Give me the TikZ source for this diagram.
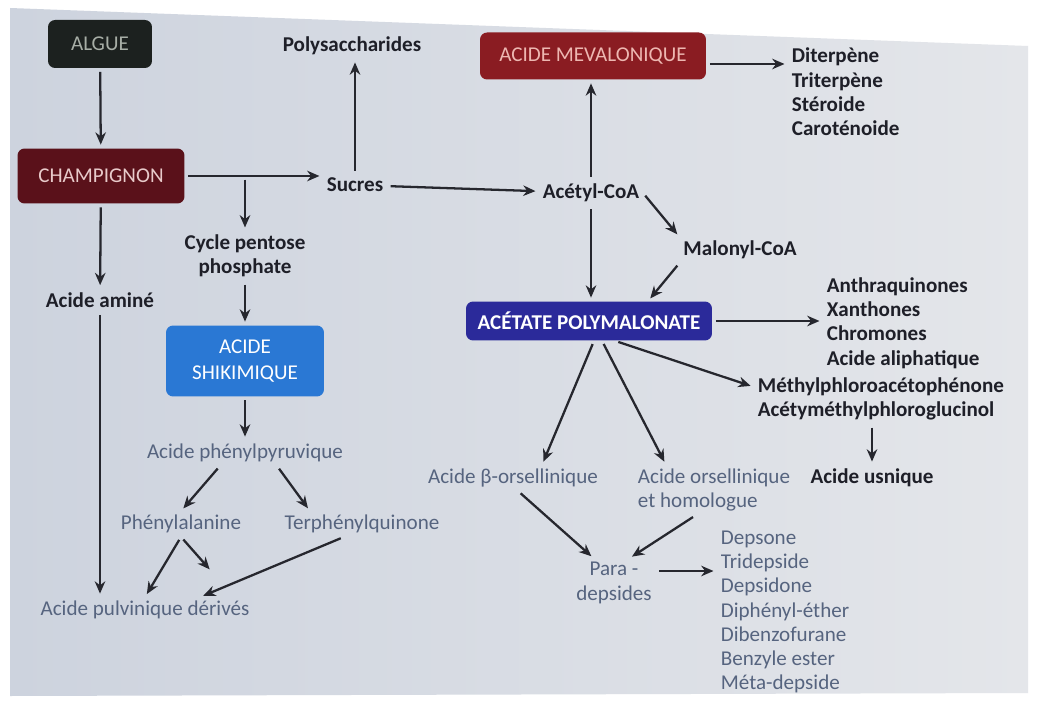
\documentclass[tikz,border=0pt]{standalone}
\usepackage{fontspec}
\setmainfont{Carlito}
\usetikzlibrary{calc}
\usetikzlibrary{positioning}
\usetikzlibrary{arrows.meta}

\definecolor{slideleft}{HTML}{CDD3DE}
\definecolor{slideright}{HTML}{E4E6EA}
\definecolor{alguebox}{HTML}{1C211F}
\definecolor{alguetext}{HTML}{A7AEA6}
\definecolor{champbox}{HTML}{5A111A}
\definecolor{champtext}{HTML}{E8CACA}
\definecolor{mevabox}{HTML}{8A1C22}
\definecolor{mevatext}{HTML}{EDB7B1}
\definecolor{shikibox}{HTML}{2A78D4}
\definecolor{acetbox}{HTML}{2B2A9A}
\definecolor{inkdark}{HTML}{1E1F28}
\definecolor{inkpale}{HTML}{56647F}
\definecolor{arrowink}{HTML}{26272E}

\begin{document}
\begin{tikzpicture}[
    x=0.02cm, y=-0.02cm,
    >={Stealth[length=7pt,width=6pt]},
    box/.style={
        rectangle,
        rounded corners=4pt,
        align=center,
        inner sep=2pt,
        font=\fontsize{12}{15}\selectfont,
        },
    txt/.style={
        align=center,
        inner sep=2pt,
        text=inkdark,
        font=\bfseries\fontsize{12}{13.8}\selectfont,
        },
    pale/.style={
        align=center,
        inner sep=2pt,
        text=inkpale,
        font=\fontsize{12}{13.8}\selectfont,
        },
    listed/.style={
        anchor=west,
        align=left,
        },
    arrowline/.style={
        line width=1.3pt,
        draw=arrowink,
        shorten >=2pt,
        shorten <=2pt,
        },
    ]

    \useasboundingbox (0,0) rectangle (1037,702);
    \fill [white] (0,0) rectangle (1037,702);
    \shade [left color=slideleft, right color=slideright]
        (10,8) -- (1028,46) -- (1028,693) -- (10,696) -- cycle;

    % left branch
    \node [box, fill=alguebox, text=alguetext, minimum width=2.08cm, minimum height=0.96cm] (algue) at (100,44) {ALGUE};
    \node [box, fill=champbox, text=champtext, minimum width=3.34cm, minimum height=1.1cm] (champ) at (101,176) {CHAMPIGNON};
    \node [txt] (poly) at (352,46) {Polysaccharides};
    \node [txt] (sucres) at (355,185) {Sucres};
    \node [txt] (cycle) at (245,256) {Cycle pentose\\phosphate};
    \node [txt] (amine) at (100,300) {Acide aminé};
    \node [box, fill=shikibox, text=white, minimum width=3.16cm, minimum height=1.42cm] (shiki) at (245,361) {ACIDE\\SHIKIMIQUE};
    \node [pale] (phenylpyr) at (245,453) {Acide phénylpyruvique};
    \node [pale] (phenylala) at (181,524) {Phénylalanine};
    \node [pale] (terph) at (362,524) {Terphénylquinone};
    \node [pale] (pulv) at (145,610) {Acide pulvinique dérivés};
    \coordinate (pulvmark) at (212,572);

    % right branch
    \node [box, fill=mevabox, text=mevatext, minimum width=4.52cm, minimum height=0.94cm] (meva) at (593,56) {ACIDE MEVALONIQUE};
    \node [txt, listed] (terpenes) at (788,92) {Diterpène\\Triterpène\\Stéroide\\Caroténoide};
    \node [txt] (acetyl) at (591,193) {Acétyl-CoA};
    \node [txt] (malonyl) at (740,250) {Malonyl-CoA};
    \node [box, fill=acetbox, text=white, font=\bfseries\fontsize{12}{15}\selectfont, minimum width=4.92cm, minimum height=0.78cm] (acet) at (589,321) {ACÉTATE POLYMALONATE};
    \node [txt, listed] (quinones) at (823,323) {Anthraquinones\\Xanthones\\Chromones\\Acide aliphatique};
    \node [txt, listed] (phloro) at (754,399) {Méthylphloroacétophénone\\Acétyméthylphloroglucinol};
    \node [txt] (usnique) at (872,478) {Acide usnique};
    \node [pale] (betaors) at (513,478) {Acide β-orsellinique};
    \node [pale, listed] (orsel) at (634,490) {Acide orsellinique\\et homologue};
    \node [pale] (para) at (614,583) {Para -\\depsides};
    \node [pale, listed] (depsides) at (717,612) {Depsone\\Tridepside\\Depsidone\\Diphényl-éther\\Dibenzofurane\\Benzyle ester\\Méta-depside};

    \draw [->, arrowline] (algue) -- (champ);
    \draw [->, arrowline] (champ) -- (champ -| sucres.west);
    \draw [->, arrowline] (champ -| cycle) -- (cycle);
    \draw [->, arrowline] (champ) -- (amine);
    \draw [->, arrowline] (sucres.north) -- (sucres.north |- poly.south);
    \draw [->, arrowline] (cycle) -- (shiki);
    \draw [->, arrowline] (amine) -- (amine |- pulv.north);
    \draw [->, arrowline] (shiki) -- (phenylpyr);
    \draw [->, arrowline] ([xshift=-0.5cm]phenylpyr.south) -- (phenylala.north);
    \draw [->, arrowline] ([xshift=0.64cm]phenylpyr.south) -- ([xshift=-1.04cm]terph.north);
    \draw [->, arrowline] (phenylala.south) -- (pulv.north);
    \draw [->, arrowline] (phenylala.south) -- (pulvmark);
    \draw [->, arrowline] ([xshift=-0.36cm]terph.south) -- ([xshift=1.1cm]pulv.north);

    \draw [->, arrowline] ([yshift=-0.16cm]meva.east) -- ([yshift=-0.16cm]meva.east -| terpenes.west);
    \draw [->, arrowline] (acetyl.north) -- (acetyl.north |- meva.south);
    \draw [->, arrowline] (sucres) -- (acetyl);
    \draw [->, arrowline] (acetyl.east) -- (malonyl.north west);
    \draw [->, arrowline] (malonyl.south west) -- ([xshift=1.18cm]acet.north);
    \draw [->, arrowline] (acetyl.south) -- (acetyl.south |- acet.north);
    \draw [->, arrowline] (acet.east) -- (acet.east -| quinones.west);
    \draw [->, arrowline] ([xshift=0.52cm]acet.south) -- ([yshift=0.24cm]phloro.west);
    \draw [->, arrowline] ([xshift=0.1cm]acet.south) -- ([xshift=0.58cm]betaors.north);
    \draw [->, arrowline] ([xshift=0.26cm]acet.south) -- ([xshift=0.64cm]orsel.north west);
    \draw [->, arrowline] (usnique |- phloro.south) -- (usnique.north);
    \draw [->, arrowline] ([xshift=0.1cm]betaors.south) -- ([xshift=-0.4cm]para.north);
    \draw [->, arrowline] ([xshift=-0.36cm]orsel.south) -- ([xshift=0.3cm]para.north);
    \draw [->, arrowline] ([yshift=0.24cm]para.east) -- ([yshift=0.24cm]para.east -| depsides.west);

\end{tikzpicture}
\end{document}
